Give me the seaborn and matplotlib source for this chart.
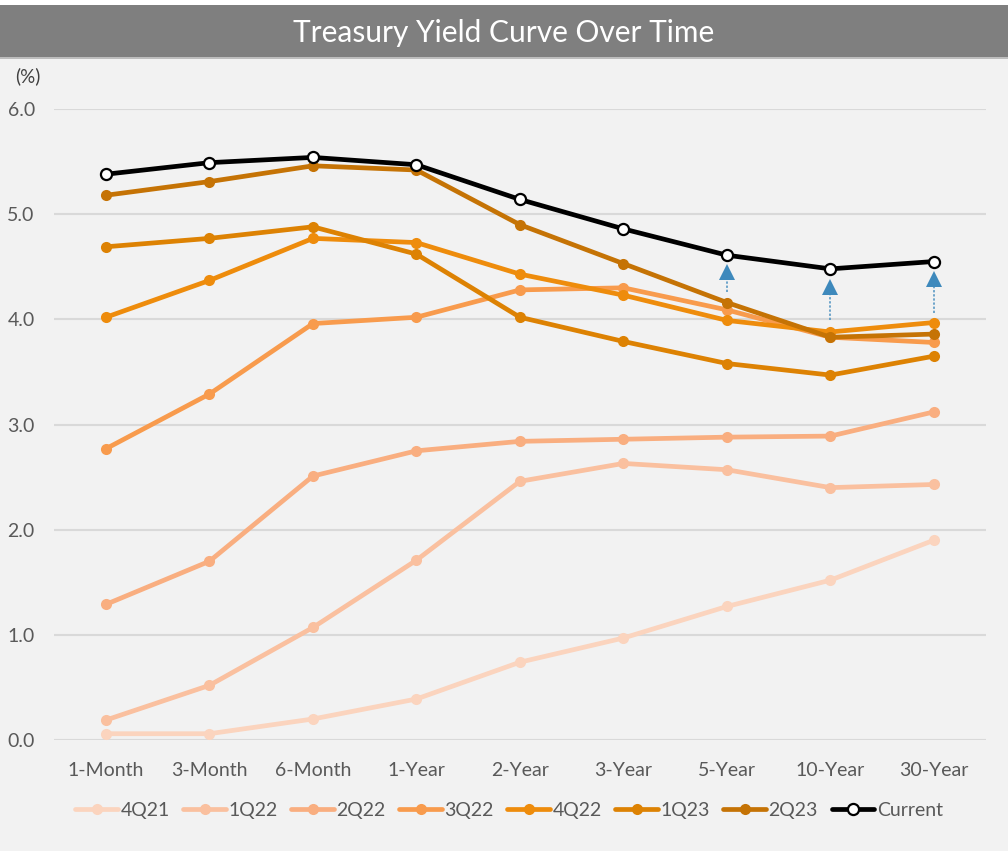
import matplotlib
matplotlib.use("Agg")
import matplotlib.pyplot as plt
import seaborn as sns
import pandas as pd
from matplotlib.patches import Rectangle

tenors = ["1-Month", "3-Month", "6-Month", "1-Year", "2-Year", "3-Year", "5-Year", "10-Year", "30-Year"]
periods = ["4Q21", "1Q22", "2Q22", "3Q22", "4Q22", "1Q23", "2Q23", "Current"]

y_4q21 = [0.06, 0.06, 0.20, 0.39, 0.74, 0.97, 1.27, 1.52, 1.90]
y_1q22 = [0.19, 0.52, 1.07, 1.71, 2.46, 2.63, 2.57, 2.40, 2.43]
y_2q22 = [1.29, 1.70, 2.51, 2.75, 2.84, 2.86, 2.88, 2.89, 3.12]
y_3q22 = [2.77, 3.29, 3.96, 4.02, 4.28, 4.30, 4.09, 3.83, 3.78]
y_4q22 = [4.02, 4.37, 4.77, 4.73, 4.43, 4.23, 3.99, 3.88, 3.97]
y_1q23 = [4.69, 4.77, 4.88, 4.62, 4.02, 3.79, 3.58, 3.47, 3.65]
y_2q23 = [5.18, 5.31, 5.46, 5.42, 4.90, 4.53, 4.16, 3.83, 3.86]
y_current = [5.38, 5.49, 5.54, 5.47, 5.14, 4.86, 4.61, 4.48, 4.55]

arrow_tenors = ["5-Year", "10-Year", "30-Year"]
arrow_start = [4.26, 3.99, 4.06]
arrow_end = [4.45, 4.31, 4.38]

series = [y_4q21, y_1q22, y_2q22, y_3q22, y_4q22, y_1q23, y_2q23, y_current]
colors = ["#FBD4BE", "#FAC09F", "#F9AE80", "#F89B4D", "#EE8C0C", "#DD8203", "#C57305", "#000000"]

rows = []
for p, vals in zip(periods, series):
    for t, v in zip(tenors, vals):
        rows.append({"period": p, "tenor": t, "yield": v})
df = pd.DataFrame(rows)

sns.set_theme(style="white")
plt.rcParams["font.family"] = ["Lato", "DejaVu Sans"]

BG = "#F2F2F2"
fig = plt.figure(figsize=(10.08, 8.51), dpi=100, facecolor=BG)
ax = fig.add_axes([0.0538, 0.1304, 0.924, 0.7415])
ax.set_facecolor(BG)

# title bar
fig.patches.append(Rectangle((0, 1 - 57 / 851), 1, 52 / 851, transform=fig.transFigure,
                             facecolor="#7F7F7F", edgecolor="none", zorder=0))
fig.patches.append(Rectangle((0, 1 - 59 / 851), 1, 2 / 851, transform=fig.transFigure,
                             facecolor="#BDBDBD", edgecolor="none", zorder=0))
fig.patches.append(Rectangle((0, 1 - 5 / 851), 1, 5 / 851, transform=fig.transFigure,
                             facecolor="white", edgecolor="none", zorder=0))
fig.text(0.5, 1 - 33 / 851, "Treasury Yield Curve Over Time", ha="center", va="center",
         color="white", fontsize=21.5)

for i, (p, c) in enumerate(zip(periods, colors)):
    sub = df[df["period"] == p]
    if p == "Current":
        sns.lineplot(data=sub, x="tenor", y="yield", ax=ax, color=c, linewidth=3.4,
                     marker="o", markersize=8, markerfacecolor="white", markeredgecolor="black",
                     markeredgewidth=1.6, zorder=10, sort=False, label=p)
    else:
        sns.lineplot(data=sub, x="tenor", y="yield", ax=ax, color=c, linewidth=3.4,
                     marker="o", markersize=8, markeredgewidth=0, zorder=3 + i, sort=False, label=p)

# arrows
for t, s, e in zip(arrow_tenors, arrow_start, arrow_end):
    ax.plot([t, t], [s, e], color="#4A90C0", linestyle=(0, (1.5, 1.2)), linewidth=1.1, zorder=20)
    ax.plot([t], [e], marker="^", markersize=11, color="#3E89BC", markeredgewidth=0, zorder=21)

ax.set_xlim(-0.5, 8.5)
ax.set_ylim(0, 6)
ax.set_yticks([0, 1, 2, 3, 4, 5, 6])
ax.set_yticklabels([f"{v:.1f}" for v in [0, 1, 2, 3, 4, 5, 6]])
ax.yaxis.grid(True, color="#D9D9D9", linewidth=1.5)
ax.xaxis.grid(False)
ax.set_axisbelow(True)
for sp in ax.spines.values():
    sp.set_visible(False)
ax.tick_params(axis="both", length=0, labelsize=14, colors="#595959")
ax.tick_params(axis="y", pad=14)
ax.tick_params(axis="x", pad=16)
ax.set_xlabel("")
ax.set_ylabel("")
fig.text(15 / 1008, 1 - 76 / 851, "(%)", ha="left", va="center", fontsize=13.5, color="#404040")

h, l = ax.get_legend_handles_labels()
leg = ax.legend(h, l, ncol=8, loc="center", bbox_to_anchor=(0.505, 0.048),
                bbox_transform=fig.transFigure, frameon=False, fontsize=14,
                handlelength=2.2, handletextpad=0.12, columnspacing=0.7)
for txt in leg.get_texts():
    txt.set_color("#595959")

fig.savefig("out.png", dpi=100, facecolor=BG)
